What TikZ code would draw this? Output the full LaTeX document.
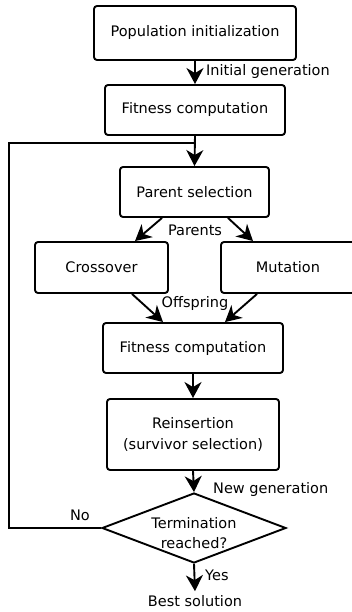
\documentclass[tikz,border=0pt]{standalone}
\usepackage{fontspec}
\setmainfont{DejaVu Sans}
\usetikzlibrary{arrows.meta,shapes.geometric}
\begin{document}
\begin{tikzpicture}[x=1pt,y=-1pt,
  font=\fontsize{14.5}{20.5}\selectfont,
  box/.style={draw, line width=1.9pt, rounded corners=3pt, inner sep=0pt, align=center},
  dec/.style={draw, diamond, line width=1.9pt, inner sep=0pt, minimum width=184pt, minimum height=70pt},
  conn/.style={line width=1.9pt, -{Stealth[length=16pt,width=17pt,inset=5pt]}},
  line/.style={line width=1.9pt},
  lbl/.style={inner sep=0pt, align=center}]
\useasboundingbox (0,0) rectangle (352,612);
\clip (0,0) rectangle (352,612);
\node[box, minimum width=202pt, minimum height=54pt] (init) at (195,33) {Population initialization};
\node[box, minimum width=180pt, minimum height=50pt] (fit1) at (195,110) {Fitness computation};
\node[box, minimum width=149pt, minimum height=50pt] (par) at (194.5,192) {Parent selection};
\node[box, minimum width=133pt, minimum height=51pt] (cross) at (101.5,267.5) {Crossover};
\node[box, minimum width=134pt, minimum height=51pt] (mut) at (288,267.5) {Mutation};
\node[box, minimum width=180pt, minimum height=50pt] (fit2) at (193,348) {Fitness computation};
\node[box, minimum width=172pt, minimum height=71pt] (rein) at (193,434.5) {Reinsertion\\(survivor selection)};
\node[dec] (term) at (194,528) {};
\node[lbl] (termtxt) at (194,533) {Termination\\reached?};
\node[lbl] (best) at (195,601) {Best solution};

\node[lbl, anchor=west] (lig) at (206,72) {Initial generation};
\node[lbl] (lpar) at (195,230) {Parents};
\node[lbl] (loff) at (195,303) {Offspring};
\node[lbl, anchor=west] (lng) at (213,489) {New generation};
\node[lbl] (lno) at (80,515) {No};
\node[lbl, anchor=west] (lyes) at (205,575) {Yes};

\coordinate (lc) at (9,143);
\coordinate (join) at (195,143);

\draw[conn] (init.south) -- (fit1.north);
\draw[conn] (fit1.south) -- (par.north);
\draw[line] (term.west) -| (lc) -- (join);
\draw[conn] ([xshift=-32.5pt]par.south) -- ([xshift=33.5pt]cross.north);
\draw[conn] ([xshift=33.5pt]par.south) -- ([xshift=-35pt]mut.north);
\draw[conn] ([xshift=30.5pt]cross.south) -- ([xshift=-30pt]fit2.north);
\draw[conn] ([xshift=-31pt]mut.south) -- ([xshift=32pt]fit2.north);
\draw[conn] (fit2.south) -- (rein.north);
\draw[conn] (rein.south) -- (term.north);
\draw[conn] (term.south) -- ([yshift=4pt]best.north);
\end{tikzpicture}
\end{document}
